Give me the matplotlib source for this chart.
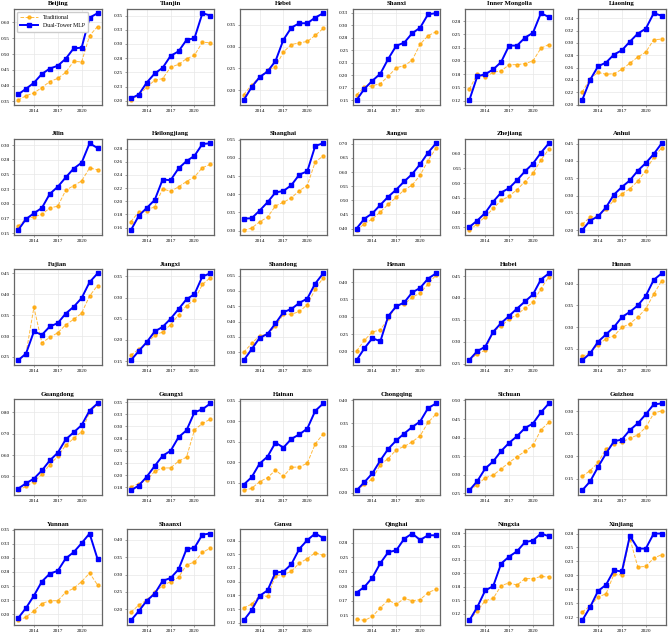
import matplotlib
matplotlib.use("Agg")
import matplotlib.pyplot as plt
from matplotlib.ticker import MaxNLocator, FormatStrFormatter

years = list(range(2012, 2023))
xtick_years = [2014, 2017, 2020]

provinces = ["Beijing", "Tianjin", "Hebei", "Shanxi", "Inner Mongolia", "Liaoning",
             "Jilin", "Heilongjiang", "Shanghai", "Jiangsu", "Zhejiang", "Anhui",
             "Fujian", "Jiangxi", "Shandong", "Henan", "Hubei", "Hunan",
             "Guangdong", "Guangxi", "Hainan", "Chongqing", "Sichuan", "Guizhou",
             "Yunnan", "Shaanxi", "Gansu", "Qinghai", "Ningxia", "Xinjiang"]

# Dual-Tower MLP
mlp = {
    "Beijing": [0.372, 0.390, 0.409, 0.437, 0.454, 0.463, 0.485, 0.518, 0.520, 0.615, 0.629],
    "Tianjin": [0.204, 0.211, 0.232, 0.248, 0.258, 0.279, 0.287, 0.307, 0.310, 0.354, 0.350],
    "Hebei": [0.177, 0.207, 0.230, 0.243, 0.267, 0.316, 0.344, 0.354, 0.354, 0.367, 0.377],
    "Shanxi": [0.150, 0.173, 0.189, 0.203, 0.233, 0.259, 0.265, 0.284, 0.295, 0.322, 0.324],
    "Inner Mongolia": [0.126, 0.171, 0.175, 0.184, 0.198, 0.229, 0.229, 0.244, 0.253, 0.290, 0.283],
    "Liaoning": [0.207, 0.240, 0.262, 0.268, 0.281, 0.288, 0.302, 0.315, 0.323, 0.348, 0.344],
    "Jilin": [0.155, 0.174, 0.184, 0.193, 0.217, 0.229, 0.245, 0.260, 0.270, 0.303, 0.295],
    "Heilongjiang": [0.156, 0.178, 0.190, 0.202, 0.233, 0.232, 0.250, 0.261, 0.269, 0.287, 0.288],
    "Shanghai": [0.333, 0.334, 0.355, 0.378, 0.405, 0.409, 0.425, 0.454, 0.463, 0.533, 0.540],
    "Jiangsu": [0.400, 0.435, 0.454, 0.484, 0.513, 0.538, 0.567, 0.593, 0.628, 0.669, 0.702],
    "Zhejiang": [0.351, 0.373, 0.399, 0.437, 0.468, 0.483, 0.510, 0.540, 0.566, 0.603, 0.635],
    "Anhui": [0.200, 0.228, 0.240, 0.266, 0.303, 0.325, 0.344, 0.372, 0.394, 0.420, 0.451],
    "Fujian": [0.242, 0.258, 0.311, 0.303, 0.323, 0.331, 0.354, 0.370, 0.391, 0.429, 0.450],
    "Jiangxi": [0.152, 0.174, 0.195, 0.220, 0.231, 0.250, 0.273, 0.296, 0.308, 0.350, 0.357],
    "Shandong": [0.274, 0.310, 0.347, 0.360, 0.394, 0.431, 0.441, 0.461, 0.475, 0.524, 0.557],
    "Henan": [0.174, 0.209, 0.238, 0.229, 0.302, 0.330, 0.341, 0.370, 0.383, 0.410, 0.425],
    "Hubei": [0.259, 0.279, 0.289, 0.323, 0.343, 0.359, 0.376, 0.392, 0.408, 0.442, 0.456],
    "Hunan": [0.223, 0.239, 0.266, 0.283, 0.300, 0.323, 0.335, 0.350, 0.372, 0.409, 0.424],
    "Guangdong": [0.443, 0.468, 0.490, 0.528, 0.575, 0.611, 0.673, 0.706, 0.740, 0.808, 0.841],
    "Guangxi": [0.169, 0.179, 0.197, 0.219, 0.240, 0.250, 0.278, 0.292, 0.329, 0.335, 0.347],
    "Hainan": [0.146, 0.164, 0.197, 0.214, 0.248, 0.236, 0.257, 0.268, 0.282, 0.325, 0.343],
    "Chongqing": [0.205, 0.223, 0.242, 0.270, 0.295, 0.313, 0.328, 0.342, 0.354, 0.383, 0.393],
    "Sichuan": [0.258, 0.283, 0.317, 0.336, 0.364, 0.386, 0.404, 0.426, 0.438, 0.468, 0.492],
    "Guizhou": [0.124, 0.144, 0.176, 0.206, 0.233, 0.237, 0.258, 0.273, 0.293, 0.315, 0.317],
    "Yunnan": [0.193, 0.211, 0.233, 0.258, 0.272, 0.277, 0.299, 0.310, 0.326, 0.343, 0.298],
    "Shaanxi": [0.168, 0.195, 0.225, 0.245, 0.282, 0.290, 0.315, 0.373, 0.377, 0.415, 0.418],
    "Gansu": [0.129, 0.148, 0.174, 0.184, 0.217, 0.218, 0.232, 0.260, 0.276, 0.288, 0.280],
    "Qinghai": [0.189, 0.199, 0.215, 0.240, 0.259, 0.262, 0.282, 0.291, 0.280, 0.288, 0.288],
    "Ningxia": [0.112, 0.137, 0.168, 0.176, 0.218, 0.231, 0.241, 0.258, 0.261, 0.274, 0.269],
    "Xinjiang": [0.119, 0.143, 0.172, 0.183, 0.209, 0.207, 0.271, 0.248, 0.248, 0.275, 0.275],
}

# Traditional
trad = {
    "Beijing": [0.354, 0.368, 0.377, 0.394, 0.413, 0.423, 0.442, 0.477, 0.475, 0.558, 0.587],
    "Tianjin": [0.201, 0.210, 0.224, 0.236, 0.239, 0.259, 0.264, 0.274, 0.280, 0.303, 0.302],
    "Hebei": [0.190, 0.212, 0.230, 0.246, 0.254, 0.288, 0.305, 0.309, 0.312, 0.326, 0.342],
    "Shanxi": [0.161, 0.176, 0.179, 0.183, 0.198, 0.215, 0.219, 0.230, 0.262, 0.279, 0.287],
    "Inner Mongolia": [0.147, 0.175, 0.169, 0.179, 0.181, 0.193, 0.193, 0.195, 0.200, 0.224, 0.231],
    "Liaoning": [0.220, 0.242, 0.252, 0.249, 0.250, 0.257, 0.267, 0.277, 0.285, 0.305, 0.306],
    "Jilin": [0.162, 0.174, 0.178, 0.182, 0.193, 0.196, 0.223, 0.231, 0.239, 0.261, 0.258],
    "Heilongjiang": [0.169, 0.184, 0.186, 0.192, 0.219, 0.215, 0.222, 0.230, 0.237, 0.251, 0.256],
    "Shanghai": [0.301, 0.307, 0.324, 0.337, 0.368, 0.378, 0.390, 0.410, 0.424, 0.489, 0.505],
    "Jiangsu": [0.394, 0.417, 0.434, 0.459, 0.486, 0.511, 0.537, 0.554, 0.589, 0.641, 0.685],
    "Zhejiang": [0.340, 0.362, 0.386, 0.414, 0.441, 0.456, 0.478, 0.505, 0.533, 0.578, 0.615],
    "Anhui": [0.217, 0.238, 0.241, 0.260, 0.287, 0.305, 0.320, 0.342, 0.372, 0.411, 0.438],
    "Fujian": [0.242, 0.258, 0.369, 0.284, 0.297, 0.308, 0.327, 0.340, 0.355, 0.396, 0.421],
    "Jiangxi": [0.164, 0.178, 0.192, 0.211, 0.219, 0.236, 0.259, 0.281, 0.294, 0.331, 0.347],
    "Shandong": [0.300, 0.329, 0.354, 0.359, 0.385, 0.424, 0.424, 0.433, 0.455, 0.505, 0.543],
    "Henan": [0.201, 0.232, 0.256, 0.262, 0.295, 0.330, 0.336, 0.356, 0.368, 0.394, 0.420],
    "Hubei": [0.258, 0.273, 0.281, 0.323, 0.336, 0.352, 0.362, 0.377, 0.390, 0.421, 0.448],
    "Hunan": [0.232, 0.241, 0.259, 0.273, 0.280, 0.299, 0.308, 0.323, 0.342, 0.376, 0.407],
    "Guangdong": [0.435, 0.454, 0.476, 0.510, 0.556, 0.594, 0.646, 0.678, 0.710, 0.800, 0.837],
    "Guangxi": [0.176, 0.183, 0.190, 0.208, 0.215, 0.215, 0.229, 0.237, 0.293, 0.306, 0.315],
    "Hainan": [0.132, 0.137, 0.153, 0.163, 0.181, 0.166, 0.188, 0.189, 0.198, 0.245, 0.269],
    "Chongqing": [0.205, 0.218, 0.230, 0.261, 0.274, 0.293, 0.300, 0.310, 0.323, 0.352, 0.370],
    "Sichuan": [0.258, 0.273, 0.292, 0.299, 0.316, 0.333, 0.349, 0.363, 0.379, 0.421, 0.441],
    "Guizhou": [0.155, 0.168, 0.186, 0.216, 0.228, 0.231, 0.240, 0.247, 0.264, 0.295, 0.301],
    "Yunnan": [0.189, 0.195, 0.206, 0.219, 0.224, 0.224, 0.239, 0.246, 0.258, 0.273, 0.252],
    "Shaanxi": [0.192, 0.212, 0.227, 0.249, 0.268, 0.280, 0.292, 0.328, 0.336, 0.364, 0.376],
    "Gansu": [0.152, 0.159, 0.174, 0.173, 0.211, 0.213, 0.219, 0.234, 0.242, 0.253, 0.248],
    "Qinghai": [0.144, 0.141, 0.148, 0.163, 0.176, 0.169, 0.179, 0.175, 0.177, 0.189, 0.195],
    "Ningxia": [0.112, 0.130, 0.149, 0.153, 0.177, 0.182, 0.178, 0.190, 0.190, 0.194, 0.193],
    "Xinjiang": [0.134, 0.145, 0.161, 0.167, 0.202, 0.201, 0.266, 0.215, 0.216, 0.231, 0.237],
}

plt.rcParams['font.family'] = ['Liberation Serif', 'DejaVu Serif']

fig, axes = plt.subplots(5, 6, figsize=(6.69, 6.35), dpi=100)
plt.subplots_adjust(left=0.021, right=0.995, top=0.986, bottom=0.016, wspace=0.29, hspace=0.36)

for i, name in enumerate(provinces):
    ax = axes.flat[i]
    ax.plot(years, trad[name], color='orange', alpha=0.75, linestyle='--', linewidth=0.7,
            marker='o', markersize=2.2, label='Traditional')
    ax.plot(years, mlp[name], color='blue', linewidth=1.4, marker='s', markersize=2.4,
            label='Dual-Tower MLP')
    ax.set_title(name, fontsize=4.9, fontweight='bold', pad=2.5)
    ax.set_xticks(xtick_years)
    ax.yaxis.set_major_locator(MaxNLocator(nbins=8, steps=[1, 2, 2.5, 5, 10]))
    ax.yaxis.set_major_formatter(FormatStrFormatter('%.2f'))
    ax.tick_params(labelsize=3.7, length=1.5, width=0.4, pad=1.5, color='#555555')
    ax.grid(True, color='#e8e8e8', linewidth=0.5)
    for s in ax.spines.values():
        s.set_color('#666666')
        s.set_linewidth(0.9)
    if i == 0:
        ax.legend(loc='upper left', fontsize=4.2, handlelength=3.0, borderpad=0.6,
                  labelspacing=0.5, framealpha=1, edgecolor='#cccccc')

plt.savefig('out.png', dpi=100)
